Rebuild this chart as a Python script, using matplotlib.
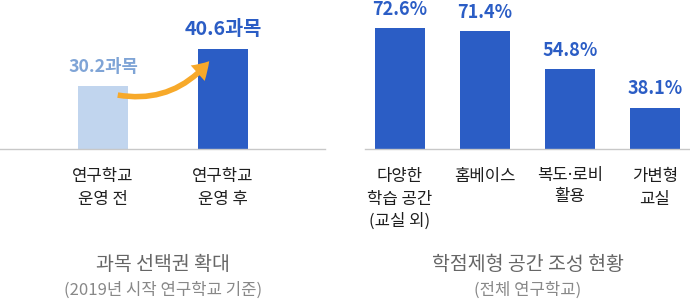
import matplotlib
matplotlib.use("Agg")
import matplotlib.pyplot as plt

plt.rcParams['font.family'] = ['Noto Sans CJK KR', 'DejaVu Sans']

# left chart data
left_cats = ['연구학교\n운영 전', '연구학교\n운영 후']
left_vals = [30.2, 40.6]
left_unit = '과목'

# right chart data
right_cats = ['다양한\n학습 공간\n(교실 외)', '홈베이스', '복도·로비\n활용', '가변형\n교실']
right_vals = [72.6, 71.4, 54.8, 38.1]

blue = '#2b5dc5'
light = '#c1d5ee'
light_txt = '#7fa4d6'
axis_c = '#c8c8c8'

fig = plt.figure(figsize=(6.9, 3.0), dpi=100)
ax1 = fig.add_axes([0, 151/300, 325/690, 149/300])
ax2 = fig.add_axes([365/690, 151/300, 325/690, 149/300])


def style(ax):
    for s in ['top', 'left', 'right']:
        ax.spines[s].set_visible(False)
    ax.spines['bottom'].set_color(axis_c)
    ax.spines['bottom'].set_linewidth(1.0)
    ax.set_yticks([])
    ax.tick_params(axis='x', length=0, pad=14, labelsize=12, labelcolor='#1e1e1e')
    for t in ax.get_xticklabels():
        t.set_linespacing(1.4)
        t.set_fontweight('medium')
        if '·' in t.get_text():
            # narrow middle dot from the latin font
            t.set_family(['Noto Sans', 'Noto Sans CJK KR'])


# left
x1 = range(len(left_vals))
ax1.bar(x1, left_vals, width=50/120, color=[light, blue])
ax1.set_xlim(-103/120, 222/120)
ax1.set_ylim(12.5, 54.4)
ax1.set_xticks(list(x1), left_cats)
style(ax1)
lab_cols = [light_txt, blue]
lab_size = [12.8, 14.2]
for i, v in enumerate(left_vals):
    ax1.annotate(f'{v}{left_unit}', (i, v), xytext=(0, 14), textcoords='offset points',
                 ha='center', va='center', fontsize=lab_size[i], fontweight='bold',
                 color=lab_cols[i])
ax1.annotate('', xy=(0.9, 37.8), xytext=(0.1, 27.8),
             arrowprops=dict(arrowstyle='simple,head_length=1.2,head_width=1.5,tail_width=0.4',
                             connectionstyle='arc3,rad=0.3', color='#f7a92a', lw=0))

# right
x2 = range(len(right_vals))
ax2.bar(x2, right_vals, width=50/85, color=blue)
ax2.set_xlim(-35/85, 290/85)
ax2.set_ylim(20, 85)
ax2.set_xticks(list(x2), right_cats)
style(ax2)
for i, v in enumerate(right_vals):
    ax2.annotate(f'{v}%', (i, v), xytext=(0, 13.5), textcoords='offset points',
                 ha='center', va='center', fontsize=13, fontweight='bold', color=blue,
                 annotation_clip=False)

# titles
fig.text(163/690, 1 - 264/300, '과목 선택권 확대', ha='center', va='center',
         fontsize=14, color='#666666')
fig.text(163/690, 1 - 290/300, '(2019년 시작 연구학교 기준)', ha='center', va='center',
         fontsize=12, color='#888888', fontweight='light')
fig.text(528/690, 1 - 264/300, '학점제형 공간 조성 현황', ha='center', va='center',
         fontsize=14, color='#666666')
fig.text(528/690, 1 - 290/300, '(전체 연구학교)', ha='center', va='center',
         fontsize=12, color='#888888', fontweight='light')

fig.savefig('out.png', dpi=100)
